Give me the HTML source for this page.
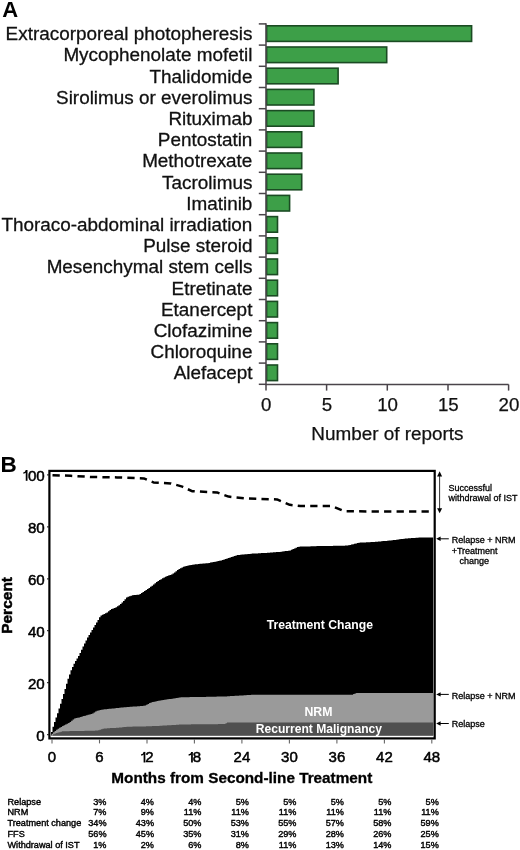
<!DOCTYPE html>
<html><head><meta charset="utf-8"><title>Figure</title>
<style>html,body{margin:0;padding:0;background:#fff;}body{width:520px;height:850px;overflow:hidden;position:relative;font-family:"Liberation Sans",sans-serif;}</style></head>
<body>
<svg width="520" height="850" viewBox="0 0 520 850" style="position:absolute;left:0;top:0;will-change:transform;font-family:'Liberation Sans',sans-serif">
<rect x="0" y="0" width="520" height="850" fill="#fff"/>
<text x="2.3" y="17.3" font-size="22" font-weight="bold" fill="#000">A</text>
<g font-size="18.9" fill="#111" stroke="#111" stroke-width="0.3" text-anchor="end">
<text x="252.4" y="40.2">Extracorporeal photopheresis</text>
<text x="252.4" y="61.4">Mycophenolate mofetil</text>
<text x="252.4" y="82.6">Thalidomide</text>
<text x="252.4" y="103.8">Sirolimus or everolimus</text>
<text x="252.4" y="125.0">Rituximab</text>
<text x="252.4" y="146.2">Pentostatin</text>
<text x="252.4" y="167.4">Methotrexate</text>
<text x="252.4" y="188.6">Tacrolimus</text>
<text x="252.4" y="209.8">Imatinib</text>
<text x="252.4" y="231.0">Thoraco-abdominal irradiation</text>
<text x="252.4" y="252.2">Pulse steroid</text>
<text x="252.4" y="273.4">Mesenchymal stem cells</text>
<text x="252.4" y="294.6">Etretinate</text>
<text x="252.4" y="315.8">Etanercept</text>
<text x="252.4" y="337.0">Clofazimine</text>
<text x="252.4" y="358.2">Chloroquine</text>
<text x="252.4" y="379.4">Alefacept</text>
</g>
<g fill="#3d9f48" stroke="#1b4b23" stroke-width="1.6">
<rect x="266.6" y="25.8" width="205.0" height="15.6"/>
<rect x="266.6" y="47.0" width="120.1" height="15.6"/>
<rect x="266.6" y="68.2" width="71.5" height="15.6"/>
<rect x="266.6" y="89.4" width="47.3" height="15.6"/>
<rect x="266.6" y="110.6" width="47.3" height="15.6"/>
<rect x="266.6" y="131.8" width="35.1" height="15.6"/>
<rect x="266.6" y="153.0" width="35.1" height="15.6"/>
<rect x="266.6" y="174.2" width="35.1" height="15.6"/>
<rect x="266.6" y="195.4" width="23.0" height="15.6"/>
<rect x="266.6" y="216.6" width="10.9" height="15.6"/>
<rect x="266.6" y="237.8" width="10.9" height="15.6"/>
<rect x="266.6" y="259.0" width="10.9" height="15.6"/>
<rect x="266.6" y="280.2" width="10.9" height="15.6"/>
<rect x="266.6" y="301.4" width="10.9" height="15.6"/>
<rect x="266.6" y="322.6" width="10.9" height="15.6"/>
<rect x="266.6" y="343.8" width="10.9" height="15.6"/>
<rect x="266.6" y="365.0" width="10.9" height="15.6"/>
</g>
<g stroke="#4a444a" stroke-width="1.5" fill="none">
<line x1="266.0" y1="23.3" x2="266.0" y2="384.4"/>
<line x1="258.8" y1="23.9" x2="266.0" y2="23.9"/>
<line x1="258.8" y1="45.1" x2="266.0" y2="45.1"/>
<line x1="258.8" y1="66.3" x2="266.0" y2="66.3"/>
<line x1="258.8" y1="87.5" x2="266.0" y2="87.5"/>
<line x1="258.8" y1="108.7" x2="266.0" y2="108.7"/>
<line x1="258.8" y1="129.9" x2="266.0" y2="129.9"/>
<line x1="258.8" y1="151.1" x2="266.0" y2="151.1"/>
<line x1="258.8" y1="172.3" x2="266.0" y2="172.3"/>
<line x1="258.8" y1="193.5" x2="266.0" y2="193.5"/>
<line x1="258.8" y1="214.7" x2="266.0" y2="214.7"/>
<line x1="258.8" y1="235.9" x2="266.0" y2="235.9"/>
<line x1="258.8" y1="257.1" x2="266.0" y2="257.1"/>
<line x1="258.8" y1="278.3" x2="266.0" y2="278.3"/>
<line x1="258.8" y1="299.5" x2="266.0" y2="299.5"/>
<line x1="258.8" y1="320.7" x2="266.0" y2="320.7"/>
<line x1="258.8" y1="341.9" x2="266.0" y2="341.9"/>
<line x1="258.8" y1="363.1" x2="266.0" y2="363.1"/>
<line x1="258.8" y1="384.3" x2="266.0" y2="384.3"/>
<line x1="265.3" y1="384.4" x2="508.6" y2="384.4"/>
<line x1="266.0" y1="384.4" x2="266.0" y2="390.6"/>
<line x1="326.6" y1="384.4" x2="326.6" y2="390.6"/>
<line x1="387.3" y1="384.4" x2="387.3" y2="390.6"/>
<line x1="448.0" y1="384.4" x2="448.0" y2="390.6"/>
<line x1="508.6" y1="384.4" x2="508.6" y2="390.6"/>
</g>
<g font-size="18.7" fill="#111" stroke="#111" stroke-width="0.25" text-anchor="middle">
<text x="266.3" y="410.6">0</text>
<text x="326.9" y="410.6">5</text>
<text x="387.6" y="410.6">10</text>
<text x="448.3" y="410.6">15</text>
<text x="508.9" y="410.6">20</text>
<text x="387.4" y="440.2" font-size="18.9">Number of reports</text>
</g>
<text x="0.6" y="472.4" font-size="22.5" font-weight="bold" fill="#000">B</text>
<path d="M51.0,734.5 L51.0,731.9 L52.5,731.9 L52.5,726.8 L54.0,726.8 L54.0,722.0 L55.5,722.0 L55.5,717.6 L57.0,717.6 L57.0,713.2 L58.5,713.2 L58.5,708.5 L60.0,708.5 L60.0,703.8 L61.5,703.8 L61.5,698.9 L63.0,698.9 L63.0,694.1 L64.5,694.1 L64.5,689.0 L66.0,689.0 L66.0,683.7 L67.5,683.7 L67.5,678.8 L69.0,678.8 L69.0,674.4 L70.5,674.4 L70.5,670.3 L72.0,670.3 L72.0,667.0 L73.5,667.0 L73.5,663.7 L75.0,663.7 L75.0,661.1 L76.5,661.1 L76.5,658.6 L78.0,658.6 L78.0,656.1 L79.5,656.1 L79.5,653.1 L81.0,653.1 L81.0,649.8 L82.5,649.8 L82.5,646.4 L84.0,646.4 L84.0,643.4 L85.5,643.4 L85.5,640.4 L87.0,640.4 L87.0,637.5 L88.5,637.5 L88.5,635.0 L90.0,635.0 L90.0,632.6 L91.5,632.6 L91.5,630.1 L93.0,630.1 L93.0,627.6 L94.5,627.6 L94.5,625.0 L96.0,625.0 L96.0,622.5 L97.5,622.5 L97.5,619.9 L99.0,619.9 L99.0,617.3 L100.5,617.3 L100.5,615.4 L102.0,615.4 L102.0,614.7 L103.5,614.7 L103.5,613.9 L105.0,613.9 L105.0,613.2 L106.5,613.2 L106.5,612.4 L108.0,612.4 L108.0,611.2 L109.5,611.2 L109.5,610.0 L111.0,610.0 L111.0,608.9 L112.5,608.9 L112.5,608.5 L114.0,608.5 L114.0,608.1 L115.5,608.1 L115.5,607.3 L117.0,607.3 L117.0,606.3 L118.5,606.3 L118.5,605.3 L120.0,605.3 L120.0,604.1 L121.5,604.1 L121.5,602.5 L123.0,602.5 L123.0,600.9 L124.5,600.9 L124.5,599.2 L126.0,599.2 L126.0,597.6 L127.5,597.6 L127.5,596.7 L129.0,596.7 L129.0,596.2 L130.5,596.2 L130.5,595.7 L132.0,595.7 L132.0,595.3 L133.5,595.3 L133.5,595.1 L135.0,595.1 L135.0,595.0 L136.5,595.0 L136.5,594.8 L138.0,594.8 L138.0,594.7 L139.5,594.7 L139.5,594.0 L141.0,594.0 L141.0,593.1 L142.5,593.1 L142.5,592.1 L144.0,592.1 L144.0,591.1 L145.5,591.1 L145.5,590.0 L147.0,590.0 L147.0,589.0 L148.5,589.0 L148.5,587.9 L150.0,587.9 L150.0,586.8 L151.5,586.8 L151.5,585.7 L153.0,585.7 L153.0,584.5 L154.5,584.5 L154.5,583.3 L156.0,583.3 L156.0,582.1 L157.5,582.1 L157.5,580.9 L159.0,580.9 L159.0,580.0 L160.5,580.0 L160.5,579.2 L162.0,579.2 L162.0,578.3 L163.5,578.3 L163.5,577.5 L165.0,577.5 L165.0,576.7 L166.5,576.7 L166.5,576.1 L168.0,576.1 L168.0,575.5 L169.5,575.5 L169.5,575.0 L171.0,575.0 L171.0,574.4 L172.5,574.4 L172.5,573.5 L174.0,573.5 L174.0,572.4 L175.5,572.4 L175.5,571.2 L177.0,571.2 L177.0,570.1 L178.5,570.1 L178.5,569.0 L180.0,569.0 L180.0,568.2 L181.5,568.2 L181.5,567.5 L183.0,567.5 L183.0,566.7 L184.5,566.7 L184.5,566.2 L186.0,566.2 L186.0,565.9 L187.5,565.9 L187.5,565.6 L189.0,565.6 L189.0,565.3 L190.5,565.3 L190.5,565.0 L192.0,565.0 L192.0,564.7 L193.5,564.7 L193.5,564.5 L195.0,564.5 L195.0,564.3 L196.5,564.3 L196.5,564.2 L198.0,564.2 L198.0,564.0 L199.5,564.0 L199.5,563.8 L201.0,563.8 L201.0,563.7 L202.5,563.7 L202.5,563.5 L204.0,563.5 L204.0,563.4 L205.5,563.4 L205.5,563.3 L207.0,563.3 L207.0,563.2 L208.5,563.2 L208.5,562.9 L210.0,562.9 L210.0,562.6 L211.5,562.6 L211.5,562.3 L213.0,562.3 L213.0,562.0 L214.5,562.0 L214.5,561.7 L216.0,561.7 L216.0,561.4 L217.5,561.4 L217.5,561.1 L219.0,561.1 L219.0,560.8 L220.5,560.8 L220.5,560.5 L222.0,560.5 L222.0,560.1 L223.5,560.1 L223.5,559.6 L225.0,559.6 L225.0,559.1 L226.5,559.1 L226.5,558.6 L228.0,558.6 L228.0,558.1 L229.5,558.1 L229.5,557.6 L231.0,557.6 L231.0,557.1 L232.5,557.1 L232.5,556.6 L234.0,556.6 L234.0,556.1 L235.5,556.1 L235.5,555.6 L237.0,555.6 L237.0,555.1 L238.5,555.1 L238.5,554.9 L240.0,554.9 L240.0,554.7 L241.5,554.7 L241.5,554.6 L243.0,554.6 L243.0,554.4 L244.5,554.4 L244.5,554.3 L246.0,554.3 L246.0,554.2 L247.5,554.2 L247.5,554.0 L249.0,554.0 L249.0,553.9 L250.5,553.9 L250.5,553.7 L252.0,553.7 L252.0,553.6 L253.5,553.6 L253.5,553.5 L255.0,553.5 L255.0,553.5 L256.5,553.5 L256.5,553.4 L258.0,553.4 L258.0,553.3 L259.5,553.3 L259.5,553.2 L261.0,553.2 L261.0,553.1 L262.5,553.1 L262.5,553.0 L264.0,553.0 L264.0,553.0 L265.5,553.0 L265.5,552.9 L267.0,552.9 L267.0,552.8 L268.5,552.8 L268.5,552.7 L270.0,552.7 L270.0,552.6 L271.5,552.6 L271.5,552.5 L273.0,552.5 L273.0,552.3 L274.5,552.3 L274.5,552.2 L276.0,552.2 L276.0,552.1 L277.5,552.1 L277.5,552.0 L279.0,552.0 L279.0,551.9 L280.5,551.9 L280.5,551.8 L282.0,551.8 L282.0,551.5 L283.5,551.5 L283.5,551.3 L285.0,551.3 L285.0,551.1 L286.5,551.1 L286.5,550.9 L288.0,550.9 L288.0,550.7 L289.5,550.7 L289.5,550.4 L291.0,550.4 L291.0,549.7 L292.5,549.7 L292.5,549.1 L294.0,549.1 L294.0,548.4 L295.5,548.4 L295.5,547.8 L297.0,547.8 L297.0,547.1 L298.5,547.1 L298.5,546.7 L300.0,546.7 L300.0,546.6 L301.5,546.6 L301.5,546.6 L303.0,546.6 L303.0,546.5 L304.5,546.5 L304.5,546.5 L306.0,546.5 L306.0,546.5 L307.5,546.5 L307.5,546.4 L309.0,546.4 L309.0,546.4 L310.5,546.4 L310.5,546.3 L312.0,546.3 L312.0,546.3 L313.5,546.3 L313.5,546.2 L315.0,546.2 L315.0,546.2 L316.5,546.2 L316.5,546.1 L318.0,546.1 L318.0,546.1 L319.5,546.1 L319.5,546.1 L321.0,546.1 L321.0,546.0 L322.5,546.0 L322.5,546.0 L324.0,546.0 L324.0,546.0 L325.5,546.0 L325.5,546.0 L327.0,546.0 L327.0,545.9 L328.5,545.9 L328.5,545.9 L330.0,545.9 L330.0,545.9 L331.5,545.9 L331.5,545.9 L333.0,545.9 L333.0,545.8 L334.5,545.8 L334.5,545.8 L336.0,545.8 L336.0,545.8 L337.5,545.8 L337.5,545.8 L339.0,545.8 L339.0,545.7 L340.5,545.7 L340.5,545.7 L342.0,545.7 L342.0,545.7 L343.5,545.7 L343.5,545.7 L345.0,545.7 L345.0,545.6 L346.5,545.6 L346.5,545.6 L348.0,545.6 L348.0,545.3 L349.5,545.3 L349.5,545.0 L351.0,545.0 L351.0,544.6 L352.5,544.6 L352.5,544.2 L354.0,544.2 L354.0,543.8 L355.5,543.8 L355.5,543.4 L357.0,543.4 L357.0,543.1 L358.5,543.1 L358.5,542.7 L360.0,542.7 L360.0,542.6 L361.5,542.6 L361.5,542.5 L363.0,542.5 L363.0,542.5 L364.5,542.5 L364.5,542.4 L366.0,542.4 L366.0,542.3 L367.5,542.3 L367.5,542.2 L369.0,542.2 L369.0,542.2 L370.5,542.2 L370.5,542.1 L372.0,542.1 L372.0,542.0 L373.5,542.0 L373.5,541.9 L375.0,541.9 L375.0,541.8 L376.5,541.8 L376.5,541.7 L378.0,541.7 L378.0,541.6 L379.5,541.6 L379.5,541.4 L381.0,541.4 L381.0,541.3 L382.5,541.3 L382.5,541.1 L384.0,541.1 L384.0,541.0 L385.5,541.0 L385.5,540.9 L387.0,540.9 L387.0,540.7 L388.5,540.7 L388.5,540.6 L390.0,540.6 L390.0,540.4 L391.5,540.4 L391.5,540.2 L393.0,540.2 L393.0,540.1 L394.5,540.1 L394.5,539.9 L396.0,539.9 L396.0,539.7 L397.5,539.7 L397.5,539.5 L399.0,539.5 L399.0,539.3 L400.5,539.3 L400.5,539.1 L402.0,539.1 L402.0,538.9 L403.5,538.9 L403.5,538.7 L405.0,538.7 L405.0,538.6 L406.5,538.6 L406.5,538.5 L408.0,538.5 L408.0,538.3 L409.5,538.3 L409.5,538.2 L411.0,538.2 L411.0,538.1 L412.5,538.1 L412.5,538.0 L414.0,538.0 L414.0,537.9 L415.5,537.9 L415.5,537.8 L417.0,537.8 L417.0,537.7 L418.5,537.7 L418.5,537.5 L420.0,537.5 L420.0,537.5 L421.5,537.5 L421.5,537.5 L423.0,537.5 L423.0,537.5 L424.5,537.5 L424.5,537.5 L426.0,537.5 L426.0,537.5 L427.5,537.5 L427.5,537.5 L429.0,537.5 L429.0,537.5 L430.5,537.5 L430.5,537.5 L432.0,537.5 L432.0,537.5 L433.2,537.5 L433.2,735.4 L51.0,735.4 Z" fill="#000"/>
<path d="M51.6,734.5 L51.6,733.8 L53.1,733.8 L53.1,732.3 L54.6,732.3 L54.6,730.9 L56.1,730.9 L56.1,729.7 L57.6,729.7 L57.6,728.8 L59.1,728.8 L59.1,727.8 L60.6,727.8 L60.6,726.9 L62.1,726.9 L62.1,726.0 L63.6,726.0 L63.6,725.2 L65.1,725.2 L65.1,724.5 L66.6,724.5 L66.6,723.7 L68.1,723.7 L68.1,723.0 L69.6,723.0 L69.6,721.9 L71.1,721.9 L71.1,720.7 L72.6,720.7 L72.6,719.5 L74.1,719.5 L74.1,718.5 L75.6,718.5 L75.6,718.1 L77.1,718.1 L77.1,717.8 L78.6,717.8 L78.6,717.4 L80.1,717.4 L80.1,717.0 L81.6,717.0 L81.6,716.6 L83.1,716.6 L83.1,716.1 L84.6,716.1 L84.6,715.7 L86.1,715.7 L86.1,715.2 L87.6,715.2 L87.6,714.8 L89.1,714.8 L89.1,714.4 L90.6,714.4 L90.6,714.0 L92.1,714.0 L92.1,713.5 L93.6,713.5 L93.6,712.6 L95.1,712.6 L95.1,711.6 L96.6,711.6 L96.6,710.7 L98.1,710.7 L98.1,710.4 L99.6,710.4 L99.6,710.1 L101.1,710.1 L101.1,709.7 L102.6,709.7 L102.6,709.5 L104.1,709.5 L104.1,709.3 L105.6,709.3 L105.6,709.2 L107.1,709.2 L107.1,709.0 L108.6,709.0 L108.6,708.8 L110.1,708.8 L110.1,708.7 L111.6,708.7 L111.6,708.5 L113.1,708.5 L113.1,708.4 L114.6,708.4 L114.6,708.2 L116.1,708.2 L116.1,708.0 L117.6,708.0 L117.6,707.9 L119.1,707.9 L119.1,707.7 L120.6,707.7 L120.6,707.6 L122.1,707.6 L122.1,707.4 L123.6,707.4 L123.6,707.3 L125.1,707.3 L125.1,707.2 L126.6,707.2 L126.6,707.0 L128.1,707.0 L128.1,706.9 L129.6,706.9 L129.6,706.8 L131.1,706.8 L131.1,706.7 L132.6,706.7 L132.6,706.6 L134.1,706.6 L134.1,706.5 L135.6,706.5 L135.6,706.4 L137.1,706.4 L137.1,706.3 L138.6,706.3 L138.6,706.2 L140.1,706.2 L140.1,706.0 L141.6,706.0 L141.6,705.9 L143.1,705.9 L143.1,705.8 L144.6,705.8 L144.6,705.6 L146.1,705.6 L146.1,704.7 L147.6,704.7 L147.6,703.9 L149.1,703.9 L149.1,703.1 L150.6,703.1 L150.6,702.4 L152.1,702.4 L152.1,702.1 L153.6,702.1 L153.6,701.8 L155.1,701.8 L155.1,701.4 L156.6,701.4 L156.6,701.1 L158.1,701.1 L158.1,700.8 L159.6,700.8 L159.6,700.4 L161.1,700.4 L161.1,700.2 L162.6,700.2 L162.6,700.0 L164.1,700.0 L164.1,699.8 L165.6,699.8 L165.6,699.6 L167.1,699.6 L167.1,699.3 L168.6,699.3 L168.6,699.1 L170.1,699.1 L170.1,698.9 L171.6,698.9 L171.6,698.7 L173.1,698.7 L173.1,698.4 L174.6,698.4 L174.6,698.2 L176.1,698.2 L176.1,698.0 L177.6,698.0 L177.6,697.8 L179.1,697.8 L179.1,697.5 L180.6,697.5 L180.6,697.3 L182.1,697.3 L182.1,697.3 L183.6,697.3 L183.6,697.2 L185.1,697.2 L185.1,697.2 L186.6,697.2 L186.6,697.2 L188.1,697.2 L188.1,697.2 L189.6,697.2 L189.6,697.1 L191.1,697.1 L191.1,697.1 L192.6,697.1 L192.6,697.1 L194.1,697.1 L194.1,697.1 L195.6,697.1 L195.6,697.0 L197.1,697.0 L197.1,697.0 L198.6,697.0 L198.6,697.0 L200.1,697.0 L200.1,696.9 L201.6,696.9 L201.6,696.9 L203.1,696.9 L203.1,696.9 L204.6,696.9 L204.6,696.9 L206.1,696.9 L206.1,696.8 L207.6,696.8 L207.6,696.8 L209.1,696.8 L209.1,696.8 L210.6,696.8 L210.6,696.7 L212.1,696.7 L212.1,696.7 L213.6,696.7 L213.6,696.7 L215.1,696.7 L215.1,696.7 L216.6,696.7 L216.6,696.6 L218.1,696.6 L218.1,696.6 L219.6,696.6 L219.6,696.6 L221.1,696.6 L221.1,696.6 L222.6,696.6 L222.6,696.5 L224.1,696.5 L224.1,696.5 L225.6,696.5 L225.6,696.4 L227.1,696.4 L227.1,696.3 L228.6,696.3 L228.6,696.2 L230.1,696.2 L230.1,696.1 L231.6,696.1 L231.6,696.0 L233.1,696.0 L233.1,695.9 L234.6,695.9 L234.6,695.8 L236.1,695.8 L236.1,695.8 L237.6,695.8 L237.6,695.7 L239.1,695.7 L239.1,695.6 L240.6,695.6 L240.6,695.5 L242.1,695.5 L242.1,695.4 L243.6,695.4 L243.6,695.3 L245.1,695.3 L245.1,695.2 L246.6,695.2 L246.6,695.1 L248.1,695.1 L248.1,695.0 L249.6,695.0 L249.6,694.9 L251.1,694.9 L251.1,694.8 L252.6,694.8 L252.6,694.7 L254.1,694.7 L254.1,694.7 L255.6,694.7 L255.6,694.7 L257.1,694.7 L257.1,694.7 L258.6,694.7 L258.6,694.7 L260.1,694.7 L260.1,694.7 L261.6,694.7 L261.6,694.7 L263.1,694.7 L263.1,694.7 L264.6,694.7 L264.6,694.7 L266.1,694.7 L266.1,694.7 L267.6,694.7 L267.6,694.7 L269.1,694.7 L269.1,694.7 L270.6,694.7 L270.6,694.7 L272.1,694.7 L272.1,694.7 L273.6,694.7 L273.6,694.7 L275.1,694.7 L275.1,694.7 L276.6,694.7 L276.6,694.7 L278.1,694.7 L278.1,694.7 L279.6,694.7 L279.6,694.7 L281.1,694.7 L281.1,694.7 L282.6,694.7 L282.6,694.7 L284.1,694.7 L284.1,694.7 L285.6,694.7 L285.6,694.7 L287.1,694.7 L287.1,694.7 L288.6,694.7 L288.6,694.7 L290.1,694.7 L290.1,694.7 L291.6,694.7 L291.6,694.7 L293.1,694.7 L293.1,694.7 L294.6,694.7 L294.6,694.7 L296.1,694.7 L296.1,694.7 L297.6,694.7 L297.6,694.7 L299.1,694.7 L299.1,694.7 L300.6,694.7 L300.6,694.7 L302.1,694.7 L302.1,694.7 L303.6,694.7 L303.6,694.7 L305.1,694.7 L305.1,694.7 L306.6,694.7 L306.6,694.7 L308.1,694.7 L308.1,694.7 L309.6,694.7 L309.6,694.7 L311.1,694.7 L311.1,694.7 L312.6,694.7 L312.6,694.7 L314.1,694.7 L314.1,694.7 L315.6,694.7 L315.6,694.7 L317.1,694.7 L317.1,694.7 L318.6,694.7 L318.6,694.7 L320.1,694.7 L320.1,694.7 L321.6,694.7 L321.6,694.7 L323.1,694.7 L323.1,694.7 L324.6,694.7 L324.6,694.7 L326.1,694.7 L326.1,694.7 L327.6,694.7 L327.6,694.7 L329.1,694.7 L329.1,694.7 L330.6,694.7 L330.6,694.7 L332.1,694.7 L332.1,694.7 L333.6,694.7 L333.6,694.7 L335.1,694.7 L335.1,694.7 L336.6,694.7 L336.6,694.7 L338.1,694.7 L338.1,694.7 L339.6,694.7 L339.6,694.7 L341.1,694.7 L341.1,694.7 L342.6,694.7 L342.6,694.7 L344.1,694.7 L344.1,694.7 L345.6,694.7 L345.6,694.7 L347.1,694.7 L347.1,694.7 L348.6,694.7 L348.6,694.7 L350.1,694.7 L350.1,694.7 L351.6,694.7 L351.6,694.7 L353.1,694.7 L353.1,694.1 L354.6,694.1 L354.6,693.4 L356.1,693.4 L356.1,693.1 L357.6,693.1 L357.6,693.1 L359.1,693.1 L359.1,693.1 L360.6,693.1 L360.6,693.1 L362.1,693.1 L362.1,693.1 L363.6,693.1 L363.6,693.1 L365.1,693.1 L365.1,693.1 L366.6,693.1 L366.6,693.1 L368.1,693.1 L368.1,693.1 L369.6,693.1 L369.6,693.1 L371.1,693.1 L371.1,693.1 L372.6,693.1 L372.6,693.1 L374.1,693.1 L374.1,693.1 L375.6,693.1 L375.6,693.1 L377.1,693.1 L377.1,693.1 L378.6,693.1 L378.6,693.1 L380.1,693.1 L380.1,693.1 L381.6,693.1 L381.6,693.1 L383.1,693.1 L383.1,693.1 L384.6,693.1 L384.6,693.1 L386.1,693.1 L386.1,693.1 L387.6,693.1 L387.6,693.1 L389.1,693.1 L389.1,693.1 L390.6,693.1 L390.6,693.1 L392.1,693.1 L392.1,693.1 L393.6,693.1 L393.6,693.1 L395.1,693.1 L395.1,693.1 L396.6,693.1 L396.6,693.1 L398.1,693.1 L398.1,693.1 L399.6,693.1 L399.6,693.1 L401.1,693.1 L401.1,693.1 L402.6,693.1 L402.6,693.1 L404.1,693.1 L404.1,693.1 L405.6,693.1 L405.6,693.1 L407.1,693.1 L407.1,693.1 L408.6,693.1 L408.6,693.1 L410.1,693.1 L410.1,693.1 L411.6,693.1 L411.6,693.1 L413.1,693.1 L413.1,693.1 L414.6,693.1 L414.6,693.1 L416.1,693.1 L416.1,693.1 L417.6,693.1 L417.6,693.1 L419.1,693.1 L419.1,693.1 L420.6,693.1 L420.6,693.1 L422.1,693.1 L422.1,693.1 L423.6,693.1 L423.6,693.1 L425.1,693.1 L425.1,693.1 L426.6,693.1 L426.6,693.1 L428.1,693.1 L428.1,693.1 L429.6,693.1 L429.6,693.1 L431.1,693.1 L431.1,693.1 L432.6,693.1 L432.6,693.1 L433.2,693.1 L433.2,735.4 L51.6,735.4 Z" fill="#9a9a9a"/>
<path d="M53.0,734.6 L53.0,734.2 L54.5,734.2 L54.5,733.5 L56.0,733.5 L56.0,733.1 L57.5,733.1 L57.5,732.6 L59.0,732.6 L59.0,732.2 L60.5,732.2 L60.5,731.8 L62.0,731.8 L62.0,731.3 L63.5,731.3 L63.5,731.3 L65.0,731.3 L65.0,731.2 L66.5,731.2 L66.5,731.2 L68.0,731.2 L68.0,731.2 L69.5,731.2 L69.5,731.1 L71.0,731.1 L71.0,731.1 L72.5,731.1 L72.5,731.1 L74.0,731.1 L74.0,731.1 L75.5,731.1 L75.5,731.0 L77.0,731.0 L77.0,731.0 L78.5,731.0 L78.5,731.0 L80.0,731.0 L80.0,730.9 L81.5,730.9 L81.5,730.9 L83.0,730.9 L83.0,730.9 L84.5,730.9 L84.5,730.8 L86.0,730.8 L86.0,730.8 L87.5,730.8 L87.5,730.8 L89.0,730.8 L89.0,730.8 L90.5,730.8 L90.5,730.7 L92.0,730.7 L92.0,730.7 L93.5,730.7 L93.5,730.7 L95.0,730.7 L95.0,730.6 L96.5,730.6 L96.5,730.6 L98.0,730.6 L98.0,730.2 L99.5,730.2 L99.5,729.7 L101.0,729.7 L101.0,729.2 L102.5,729.2 L102.5,728.7 L104.0,728.7 L104.0,728.5 L105.5,728.5 L105.5,728.4 L107.0,728.4 L107.0,728.3 L108.5,728.3 L108.5,728.2 L110.0,728.2 L110.0,728.1 L111.5,728.1 L111.5,728.0 L113.0,728.0 L113.0,727.9 L114.5,727.9 L114.5,727.9 L116.0,727.9 L116.0,727.8 L117.5,727.8 L117.5,727.7 L119.0,727.7 L119.0,727.5 L120.5,727.5 L120.5,727.4 L122.0,727.4 L122.0,727.2 L123.5,727.2 L123.5,727.1 L125.0,727.1 L125.0,726.9 L126.5,726.9 L126.5,726.8 L128.0,726.8 L128.0,726.7 L129.5,726.7 L129.5,726.7 L131.0,726.7 L131.0,726.7 L132.5,726.7 L132.5,726.6 L134.0,726.6 L134.0,726.6 L135.5,726.6 L135.5,726.6 L137.0,726.6 L137.0,726.5 L138.5,726.5 L138.5,726.5 L140.0,726.5 L140.0,726.5 L141.5,726.5 L141.5,726.4 L143.0,726.4 L143.0,726.4 L144.5,726.4 L144.5,726.4 L146.0,726.4 L146.0,726.3 L147.5,726.3 L147.5,726.3 L149.0,726.3 L149.0,726.3 L150.5,726.3 L150.5,726.2 L152.0,726.2 L152.0,726.1 L153.5,726.1 L153.5,726.1 L155.0,726.1 L155.0,726.0 L156.5,726.0 L156.5,725.9 L158.0,725.9 L158.0,725.9 L159.5,725.9 L159.5,725.8 L161.0,725.8 L161.0,725.7 L162.5,725.7 L162.5,725.6 L164.0,725.6 L164.0,725.5 L165.5,725.5 L165.5,725.4 L167.0,725.4 L167.0,725.3 L168.5,725.3 L168.5,725.3 L170.0,725.3 L170.0,725.2 L171.5,725.2 L171.5,725.1 L173.0,725.1 L173.0,725.0 L174.5,725.0 L174.5,724.9 L176.0,724.9 L176.0,724.8 L177.5,724.8 L177.5,724.7 L179.0,724.7 L179.0,724.6 L180.5,724.6 L180.5,724.6 L182.0,724.6 L182.0,724.5 L183.5,724.5 L183.5,724.4 L185.0,724.4 L185.0,724.4 L186.5,724.4 L186.5,724.4 L188.0,724.4 L188.0,724.4 L189.5,724.4 L189.5,724.4 L191.0,724.4 L191.0,724.3 L192.5,724.3 L192.5,724.3 L194.0,724.3 L194.0,724.3 L195.5,724.3 L195.5,724.3 L197.0,724.3 L197.0,724.3 L198.5,724.3 L198.5,724.3 L200.0,724.3 L200.0,724.3 L201.5,724.3 L201.5,724.3 L203.0,724.3 L203.0,724.3 L204.5,724.3 L204.5,724.2 L206.0,724.2 L206.0,724.2 L207.5,724.2 L207.5,724.2 L209.0,724.2 L209.0,724.2 L210.5,724.2 L210.5,724.2 L212.0,724.2 L212.0,724.2 L213.5,724.2 L213.5,724.2 L215.0,724.2 L215.0,724.2 L216.5,724.2 L216.5,724.2 L218.0,724.2 L218.0,724.1 L219.5,724.1 L219.5,724.1 L221.0,724.1 L221.0,724.1 L222.5,724.1 L222.5,724.1 L224.0,724.1 L224.0,724.0 L225.5,724.0 L225.5,723.2 L227.0,723.2 L227.0,722.6 L228.5,722.6 L228.5,722.6 L230.0,722.6 L230.0,722.6 L231.5,722.6 L231.5,722.6 L233.0,722.6 L233.0,722.6 L234.5,722.6 L234.5,722.6 L236.0,722.6 L236.0,722.6 L237.5,722.6 L237.5,722.6 L239.0,722.6 L239.0,722.6 L240.5,722.6 L240.5,722.6 L242.0,722.6 L242.0,722.6 L243.5,722.6 L243.5,722.6 L245.0,722.6 L245.0,722.6 L246.5,722.6 L246.5,722.6 L248.0,722.6 L248.0,722.6 L249.5,722.6 L249.5,722.6 L251.0,722.6 L251.0,722.6 L252.5,722.6 L252.5,722.6 L254.0,722.6 L254.0,722.6 L255.5,722.6 L255.5,722.6 L257.0,722.6 L257.0,722.6 L258.5,722.6 L258.5,722.6 L260.0,722.6 L260.0,722.6 L261.5,722.6 L261.5,722.6 L263.0,722.6 L263.0,722.5 L264.5,722.5 L264.5,722.5 L266.0,722.5 L266.0,722.5 L267.5,722.5 L267.5,722.5 L269.0,722.5 L269.0,722.5 L270.5,722.5 L270.5,722.5 L272.0,722.5 L272.0,722.5 L273.5,722.5 L273.5,722.5 L275.0,722.5 L275.0,722.5 L276.5,722.5 L276.5,722.5 L278.0,722.5 L278.0,722.5 L279.5,722.5 L279.5,722.5 L281.0,722.5 L281.0,722.5 L282.5,722.5 L282.5,722.5 L284.0,722.5 L284.0,722.5 L285.5,722.5 L285.5,722.5 L287.0,722.5 L287.0,722.5 L288.5,722.5 L288.5,722.5 L290.0,722.5 L290.0,722.5 L291.5,722.5 L291.5,722.5 L293.0,722.5 L293.0,722.5 L294.5,722.5 L294.5,722.5 L296.0,722.5 L296.0,722.5 L297.5,722.5 L297.5,722.5 L299.0,722.5 L299.0,722.5 L300.5,722.5 L300.5,722.5 L302.0,722.5 L302.0,722.5 L303.5,722.5 L303.5,722.5 L305.0,722.5 L305.0,722.5 L306.5,722.5 L306.5,722.5 L308.0,722.5 L308.0,722.5 L309.5,722.5 L309.5,722.5 L311.0,722.5 L311.0,722.5 L312.5,722.5 L312.5,722.5 L314.0,722.5 L314.0,722.5 L315.5,722.5 L315.5,722.5 L317.0,722.5 L317.0,722.5 L318.5,722.5 L318.5,722.5 L320.0,722.5 L320.0,722.5 L321.5,722.5 L321.5,722.5 L323.0,722.5 L323.0,722.5 L324.5,722.5 L324.5,722.5 L326.0,722.5 L326.0,722.5 L327.5,722.5 L327.5,722.5 L329.0,722.5 L329.0,722.5 L330.5,722.5 L330.5,722.5 L332.0,722.5 L332.0,722.5 L333.5,722.5 L333.5,722.5 L335.0,722.5 L335.0,722.5 L336.5,722.5 L336.5,722.5 L338.0,722.5 L338.0,722.5 L339.5,722.5 L339.5,722.5 L341.0,722.5 L341.0,722.5 L342.5,722.5 L342.5,722.5 L344.0,722.5 L344.0,722.5 L345.5,722.5 L345.5,722.5 L347.0,722.5 L347.0,722.5 L348.5,722.5 L348.5,722.5 L350.0,722.5 L350.0,722.5 L351.5,722.5 L351.5,722.5 L353.0,722.5 L353.0,722.5 L354.5,722.5 L354.5,722.5 L356.0,722.5 L356.0,722.5 L357.5,722.5 L357.5,722.5 L359.0,722.5 L359.0,722.5 L360.5,722.5 L360.5,722.5 L362.0,722.5 L362.0,722.5 L363.5,722.5 L363.5,722.5 L365.0,722.5 L365.0,722.5 L366.5,722.5 L366.5,722.5 L368.0,722.5 L368.0,722.5 L369.5,722.5 L369.5,722.5 L371.0,722.5 L371.0,722.5 L372.5,722.5 L372.5,722.5 L374.0,722.5 L374.0,722.5 L375.5,722.5 L375.5,722.5 L377.0,722.5 L377.0,722.5 L378.5,722.5 L378.5,722.5 L380.0,722.5 L380.0,722.5 L381.5,722.5 L381.5,722.5 L383.0,722.5 L383.0,722.5 L384.5,722.5 L384.5,722.5 L386.0,722.5 L386.0,722.5 L387.5,722.5 L387.5,722.5 L389.0,722.5 L389.0,722.5 L390.5,722.5 L390.5,722.5 L392.0,722.5 L392.0,722.5 L393.5,722.5 L393.5,722.5 L395.0,722.5 L395.0,722.5 L396.5,722.5 L396.5,722.5 L398.0,722.5 L398.0,722.5 L399.5,722.5 L399.5,722.5 L401.0,722.5 L401.0,722.5 L402.5,722.5 L402.5,722.5 L404.0,722.5 L404.0,722.5 L405.5,722.5 L405.5,722.5 L407.0,722.5 L407.0,722.5 L408.5,722.5 L408.5,722.5 L410.0,722.5 L410.0,722.5 L411.5,722.5 L411.5,722.5 L413.0,722.5 L413.0,722.5 L414.5,722.5 L414.5,722.5 L416.0,722.5 L416.0,722.5 L417.5,722.5 L417.5,722.5 L419.0,722.5 L419.0,722.5 L420.5,722.5 L420.5,722.5 L422.0,722.5 L422.0,722.5 L423.5,722.5 L423.5,722.5 L425.0,722.5 L425.0,722.5 L426.5,722.5 L426.5,722.5 L428.0,722.5 L428.0,722.5 L429.5,722.5 L429.5,722.5 L431.0,722.5 L431.0,722.5 L432.5,722.5 L432.5,722.5 L433.2,722.5 L433.2,735.4 L53.0,735.4 Z" fill="#4f4f4f"/>
<path d="M52.5,475.2 L70.8,475.8 L90.0,476.9 L117.0,477.4 L143.8,478.4 L153.5,482.4 L170.8,483.4 L182.3,486.6 L192.0,491.2 L217.0,492.4 L228.5,496.6 L245.4,498.4 L277.0,499.4 L289.8,504.8 L300.4,506.1 L332.0,506.1 L344.8,511.3 L428.8,511.6" fill="none" stroke="#000" stroke-width="2.5" stroke-dasharray="7.282 5.2" stroke-linejoin="round"/>
<rect x="49.4" y="470.9" width="385.3" height="267.5" fill="none" stroke="#000" stroke-width="2.2"/>
<g stroke="#000" stroke-width="1.3">
<line x1="47.2" y1="734.7" x2="48.5" y2="734.7"/>
<line x1="47.2" y1="682.7" x2="48.5" y2="682.7"/>
<line x1="47.2" y1="630.7" x2="48.5" y2="630.7"/>
<line x1="47.2" y1="578.8" x2="48.5" y2="578.8"/>
<line x1="47.2" y1="526.8" x2="48.5" y2="526.8"/>
<line x1="47.2" y1="474.8" x2="48.5" y2="474.8"/>
</g>
<g stroke="#666" stroke-width="1.1">
<line x1="52.0" y1="739.3" x2="52.0" y2="743.4"/>
<line x1="99.5" y1="739.3" x2="99.5" y2="743.4"/>
<line x1="147.0" y1="739.3" x2="147.0" y2="743.4"/>
<line x1="194.4" y1="739.3" x2="194.4" y2="743.4"/>
<line x1="241.9" y1="739.3" x2="241.9" y2="743.4"/>
<line x1="289.4" y1="739.3" x2="289.4" y2="743.4"/>
<line x1="336.9" y1="739.3" x2="336.9" y2="743.4"/>
<line x1="384.4" y1="739.3" x2="384.4" y2="743.4"/>
<line x1="431.8" y1="739.3" x2="431.8" y2="743.4"/>
</g>
<g font-size="15.1" fill="#000" stroke="#000" stroke-width="0.5" text-anchor="end">
<text x="44.7" y="740.6">0</text>
<text x="44.7" y="688.6">20</text>
<text x="44.7" y="636.6">40</text>
<text x="44.7" y="584.7">60</text>
<text x="44.7" y="532.7">80</text>
<text x="44.7" y="480.7">00</text>
<path d="M25.75,470.00 H27.50 V480.80 H25.75 Z" fill="#000" stroke="none"/><path d="M23.30,473.10 Q25.80,472.70 26.60,470.20" fill="none" stroke="#000" stroke-width="1.35"/>
</g>
<g font-size="15" fill="#000" stroke="#000" stroke-width="0.5" text-anchor="middle">
<text x="52.0" y="762.4">0</text>
<text x="99.5" y="762.4">6</text>
<text x="145.3" y="762.4" text-anchor="start">2</text>
<path d="M143.61,751.90 H145.36 V762.50 H143.61 Z" fill="#000" stroke="none"/><path d="M141.16,755.00 Q143.66,754.60 144.46,752.10" fill="none" stroke="#000" stroke-width="1.35"/>
<text x="192.8" y="762.4" text-anchor="start">8</text>
<path d="M191.09,751.90 H192.84 V762.50 H191.09 Z" fill="#000" stroke="none"/><path d="M188.64,755.00 Q191.14,754.60 191.94,752.10" fill="none" stroke="#000" stroke-width="1.35"/>
<text x="241.9" y="762.4">24</text>
<text x="289.4" y="762.4">30</text>
<text x="336.9" y="762.4">36</text>
<text x="384.4" y="762.4">42</text>
<text x="431.8" y="762.4">48</text>
</g>
<text transform="translate(12.3,605.4) rotate(-90)" font-size="15.5" font-weight="bold" text-anchor="middle" fill="#000" stroke="#000" stroke-width="0.5">Percent</text>
<text x="241.8" y="782.6" font-size="15.3" font-weight="bold" text-anchor="middle" fill="#000" stroke="#000" stroke-width="0.3">Months from Second-line Treatment</text>
<g font-size="12" font-weight="bold" fill="#fff" text-anchor="middle">
<text x="319.8" y="629.3" font-size="12.2">Treatment Change</text>
<text x="318.4" y="715.9" font-size="12.3">NRM</text>
<text x="318.9" y="733.4" font-size="12.1">Recurrent Malignancy</text>
</g>
<g font-size="9" fill="#000" stroke="#000" stroke-width="0.3">
<text x="448.5" y="490.8">Successful</text>
<text x="448.5" y="501.3">withdrawal of IST</text>
<text x="451.7" y="542.7">Relapse + NRM</text>
<text x="451.7" y="553.7">+Treatment</text>
<text x="459.4" y="563.8">change</text>
<text x="451.7" y="698.8">Relapse + NRM</text>
<text x="451.7" y="727.2">Relapse</text>
</g>
<g stroke="#000" stroke-width="1" fill="#000">
<line x1="439.6" y1="474" x2="439.6" y2="511" stroke="#333"/>
<path d="M439.6,471.2 L437.1,476.5 L442.1,476.5 Z" stroke="none"/>
<path d="M439.6,513.2 L437.1,508.3 L442.1,508.3 Z" stroke="none"/>
<line x1="438" y1="538.8" x2="448.8" y2="538.8"/>
<path d="M436.2,538.8 L440.6,536.5999999999999 L440.6,541.0 Z" stroke="none"/>
<line x1="438" y1="694.4" x2="448.8" y2="694.4"/>
<path d="M436.2,694.4 L440.6,692.1999999999999 L440.6,696.6 Z" stroke="none"/>
<line x1="438" y1="723.5" x2="448.8" y2="723.5"/>
<path d="M436.2,723.5 L440.6,721.3 L440.6,725.7 Z" stroke="none"/>
</g>
<g font-size="9.15" fill="#000" stroke="#000" stroke-width="0.4">
<text x="7.5" y="804.50">Relapse</text>
<text x="106.5" y="804.50" text-anchor="end">3%</text>
<text x="154.0" y="804.50" text-anchor="end">4%</text>
<text x="201.4" y="804.50" text-anchor="end">4%</text>
<text x="248.9" y="804.50" text-anchor="end">5%</text>
<text x="296.4" y="804.50" text-anchor="end">5%</text>
<text x="343.9" y="804.50" text-anchor="end">5%</text>
<text x="391.4" y="804.50" text-anchor="end">5%</text>
<text x="438.8" y="804.50" text-anchor="end">5%</text>
<text x="7.5" y="815.25">NRM</text>
<text x="106.5" y="815.25" text-anchor="end">7%</text>
<text x="154.0" y="815.25" text-anchor="end">9%</text>
<text x="201.4" y="815.25" text-anchor="end">11%</text>
<text x="248.9" y="815.25" text-anchor="end">11%</text>
<text x="296.4" y="815.25" text-anchor="end">11%</text>
<text x="343.9" y="815.25" text-anchor="end">11%</text>
<text x="391.4" y="815.25" text-anchor="end">11%</text>
<text x="438.8" y="815.25" text-anchor="end">11%</text>
<text x="7.5" y="826.00">Treatment change</text>
<text x="106.5" y="826.00" text-anchor="end">34%</text>
<text x="154.0" y="826.00" text-anchor="end">43%</text>
<text x="201.4" y="826.00" text-anchor="end">50%</text>
<text x="248.9" y="826.00" text-anchor="end">53%</text>
<text x="296.4" y="826.00" text-anchor="end">55%</text>
<text x="343.9" y="826.00" text-anchor="end">57%</text>
<text x="391.4" y="826.00" text-anchor="end">58%</text>
<text x="438.8" y="826.00" text-anchor="end">59%</text>
<text x="7.5" y="836.75">FFS</text>
<text x="106.5" y="836.75" text-anchor="end">56%</text>
<text x="154.0" y="836.75" text-anchor="end">45%</text>
<text x="201.4" y="836.75" text-anchor="end">35%</text>
<text x="248.9" y="836.75" text-anchor="end">31%</text>
<text x="296.4" y="836.75" text-anchor="end">29%</text>
<text x="343.9" y="836.75" text-anchor="end">28%</text>
<text x="391.4" y="836.75" text-anchor="end">26%</text>
<text x="438.8" y="836.75" text-anchor="end">25%</text>
<text x="7.5" y="847.50">Withdrawal of IST</text>
<text x="106.5" y="847.50" text-anchor="end">1%</text>
<text x="154.0" y="847.50" text-anchor="end">2%</text>
<text x="201.4" y="847.50" text-anchor="end">6%</text>
<text x="248.9" y="847.50" text-anchor="end">8%</text>
<text x="296.4" y="847.50" text-anchor="end">11%</text>
<text x="343.9" y="847.50" text-anchor="end">13%</text>
<text x="391.4" y="847.50" text-anchor="end">14%</text>
<text x="438.8" y="847.50" text-anchor="end">15%</text>
</g>
</svg>
</body></html>
